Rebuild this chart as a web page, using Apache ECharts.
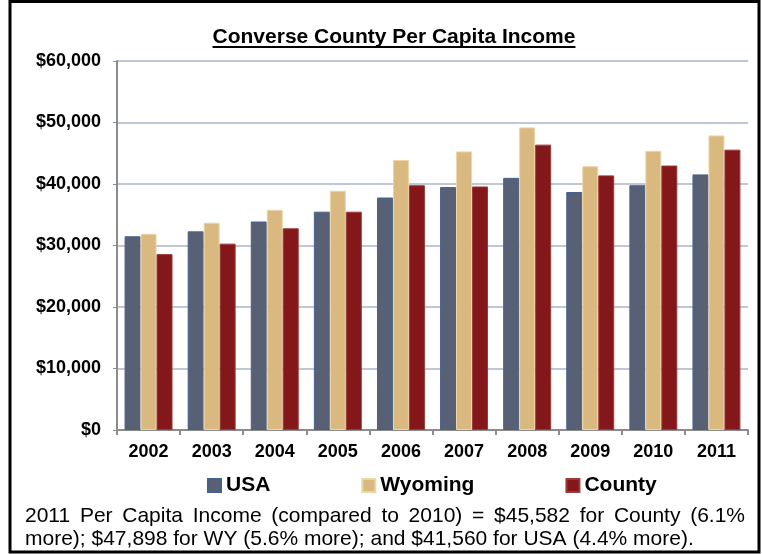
<!DOCTYPE html>
<html>
<head>
<meta charset="utf-8">
<script src="https://cdn.jsdelivr.net/npm/echarts@6/dist/echarts.min.js"></script>
<style>
  html, body { margin: 0; padding: 0; background: #ffffff; }
  #chart { width: 762px; height: 554px; }
</style>
</head>
<body>
<div id="chart"></div>
<script>
// Per capita income, 2002-2011
const years = ['2002', '2003', '2004', '2005', '2006', '2007', '2008', '2009', '2010', '2011'];
const usaIncome     = [31500, 32300, 33900, 35500, 37800, 39500, 41000, 38700, 39800, 41560];
const wyomingIncome = [31900, 33700, 35800, 38900, 43900, 45300, 49200, 42900, 45400, 47898];
const countyIncome  = [28600, 30300, 32800, 35500, 39800, 39600, 46400, 41400, 43000, 45582];
const seriesNames = ['USA', 'Wyoming', 'County'];

const titleText = 'Converse County Per Capita Income';
const noteLine1 = '2011 Per Capita Income (compared to 2010) = $45,582 for County (6.1%';
const noteLine2 = 'more); $47,898 for WY (5.6% more); and $41,560 for USA (4.4% more).';

const FONT = '"Liberation Sans", Arial, Helvetica, sans-serif';

// text measuring for the underline and the justified note line
const ctx = document.createElement('canvas').getContext('2d');
function textWidth(str, font) { ctx.font = font; return ctx.measureText(str).width; }

const titleFont = 'bold 21px ' + FONT;
const titleX = 394, titleY = 37;
const titleW = textWidth(titleText, titleFont);

const noteFont = '21px ' + FONT;
const noteLeft = 25, noteRight = 745;

// first note line is justified across the box, second line is set naturally
const words = noteLine1.split(' ');
const wordWidths = words.map(w => textWidth(w, noteFont));
const gap = (noteRight - noteLeft - wordWidths.reduce((a, b) => a + b, 0)) / (words.length - 1);
const noteGraphics = [];
let cx = noteLeft;
words.forEach((w, i) => {
  noteGraphics.push({
    type: 'text', x: cx, y: 516,
    style: { text: w, font: noteFont, fill: '#000', align: 'left', verticalAlign: 'middle' }
  });
  cx += wordWidths[i] + gap;
});
noteGraphics.push({
  type: 'text', x: noteLeft, y: 539,
  style: { text: noteLine2, font: noteFont, fill: '#000', align: 'left', verticalAlign: 'middle' }
});

const chart = echarts.init(document.getElementById('chart'), null, { renderer: 'canvas' });

function barSeries(name, data, color, edge) {
  return {
    name: name,
    type: 'bar',
    data: data,
    barGap: '0%',
    barCategoryGap: '24%',
    itemStyle: { color: color, borderColor: edge, borderWidth: 1 },
    emphasis: { disabled: true }
  };
}

chart.setOption({
  backgroundColor: '#ffffff',
  animation: false,
  grid: { left: 117, right: 14, top: 61, bottom: 124, containLabel: false },
  legend: {
    data: seriesNames,
    left: 202,
    top: 470,
    icon: 'rect',
    itemWidth: 13,
    itemHeight: 13,
    itemGap: 91,
    textStyle: { fontFamily: FONT, fontSize: 21, fontWeight: 'bold', color: '#000' }
  },
  xAxis: {
    type: 'category',
    data: years,
    axisLine: { lineStyle: { color: '#8c8c8c', width: 2 } },
    axisTick: { show: true, length: 5, lineStyle: { color: '#8c8c8c', width: 2 } },
    axisLabel: { fontFamily: FONT, fontSize: 18, fontWeight: 'bold', color: '#000', margin: 13 }
  },
  yAxis: {
    type: 'value',
    min: 0,
    max: 60000,
    interval: 10000,
    axisLine: { show: true, lineStyle: { color: '#8c8c8c', width: 2 } },
    axisTick: { show: true, length: 4, lineStyle: { color: '#8c8c8c' } },
    splitLine: { lineStyle: { color: '#a9b6c7', width: 1.5 } },
    axisLabel: {
      fontFamily: FONT, fontSize: 18, fontWeight: 'bold', color: '#000', margin: 16,
      formatter: v => '$' + v.toLocaleString('en-US')
    }
  },
  series: [
    barSeries('USA', usaIncome, '#586076', '#46618c'),
    barSeries('Wyoming', wyomingIncome, '#d9b97f', '#ecd5a6'),
    barSeries('County', countyIncome, '#841719', '#9c3a3a')
  ],
  graphic: [
    {
      type: 'rect', z: 100,
      shape: { x: 10, y: 1.5, width: 749, height: 550.5 },
      style: { fill: 'none', stroke: '#000', lineWidth: 3 }
    },
    {
      type: 'text', x: titleX, y: titleY,
      style: { text: titleText, font: titleFont, fill: '#000', align: 'center', verticalAlign: 'middle' }
    },
    {
      type: 'line',
      shape: { x1: titleX - titleW / 2, y1: 47, x2: titleX + titleW / 2, y2: 47 },
      style: { stroke: '#000', lineWidth: 2 }
    }
  ].concat(noteGraphics)
});
</script>
</body>
</html>
